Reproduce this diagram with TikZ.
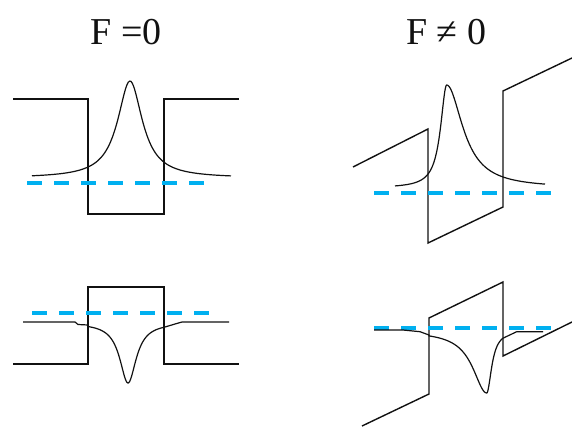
\documentclass[tikz,border=0pt]{standalone}
\usepackage{fontspec}
\setmainfont{Liberation Serif}
\usepackage{xcolor}
\usepackage{tikz}
\usetikzlibrary{positioning}
\definecolor{QWBlue} {HTML}{00B0F0}
\definecolor{QWBlack}{HTML}{111111}

\tikzset{
  band/.style={draw=QWBlack,line width=0.7pt},
  wave/.style={draw=QWBlack,line width=0.6pt},
  level/.style={draw=QWBlue,line width=1.6pt,dash pattern=on 7.5pt off 6pt},
  title/.style={anchor=base,font=\fontsize{19}{22}\selectfont,text=QWBlack},
}

\begin{document}
\begin{tikzpicture}[x=0.5pt,y=-0.5pt]
    \useasboundingbox (0,0) rectangle (572,427);
    % Titles
    \node[title] (tzero)  at (126,45) {F =0};
    \node[title] (tfield) at (446,45) {F ≠ 0};
    % Well, no field
    \draw[band] (13,99) -- (88,99) -- (88,214) -- (164,214) -- (164,99) -- (239,99);
    \draw[level] (27,183) -- (212,183);
    \draw[wave] plot[domain=32:231,samples=150] (\x,{178-97/(1+((\x-130)/15)^2)});
    % Barrier, no field
    \draw[band] (13,364) -- (88,364) -- (88,287) -- (164,287) -- (164,364) -- (239,364);
    \draw[level] (32,313) -- (215,313);
    \draw[wave] (23,322) -- (75,322) -- (78,324.5) -- (88,325)
      -- plot[domain=88:164,samples=120] (\x,{323+60/(1+((\x-128)/10)^2)})
      -- (175,324) -- (182,322) -- (229,322);
    % Well, with field
    \draw[band] (353,167) -- (428,129) -- (428,243) -- (503,207) -- (503,91) -- (572,58);
    \draw[level] (374,193) -- (558,193);
    \draw[wave] plot[domain=395:446.7,samples=80] (\x,{188-103/(1+((\x-446.7)/7.4)^2)})
      -- plot[domain=446.7:545,samples=120] (\x,{188-103/(1+((\x-446.7)/19.5)^2)});
    % Barrier, with field
    \draw[band] (362,426) -- (429,394) -- (429,318) -- (503,282) -- (503,356) -- (572,322);
    \draw[level] (374,328) -- (558,328);
    \draw[wave] (374,330) -- (403,330) -- (420,331.7) -- (429,335)
      -- plot[domain=429:486.7,samples=80] (\x,{331+62/(1+((\x-486.7)/16.9)^2)})
      -- plot[domain=486.7:503,samples=40] (\x,{331+62/(1+((\x-486.7)/5.9)^2)})
      -- (516.7,331.7) -- (543,331.7);
\end{tikzpicture}
\end{document}
